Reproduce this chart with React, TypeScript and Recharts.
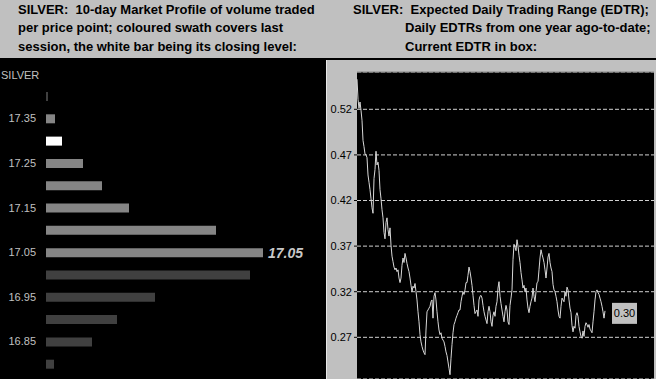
import {
  Bar,
  BarChart,
  CartesianGrid,
  Cell,
  LabelList,
  Line,
  LineChart,
  ReferenceLine,
  XAxis,
  YAxis,
} from 'recharts';

// Left: 10-day market profile (volume per price point, 0.05 steps).
const prices = [17.4, 17.35, 17.3, 17.25, 17.2, 17.15, 17.1, 17.05, 17.0, 16.95, 16.9, 16.85, 16.8];
const volumes = [2, 9, 16, 37, 56, 83, 170, 217, 204, 109, 71, 46, 8];
const SESSION_HIGH = 17.35;
const SESSION_LOW = 17.05;
const CLOSE = 17.3;
const POC = 17.05;

// Right: daily EDTR over the past year.
const edtr = [
  0.553, 0.531, 0.521, 0.528, 0.519, 0.508, 0.486, 0.479, 0.471, 0.47,
  0.467, 0.448, 0.44, 0.432, 0.422, 0.412, 0.406, 0.444, 0.454, 0.474,
  0.459, 0.462, 0.453, 0.432, 0.422, 0.41, 0.401, 0.385, 0.378, 0.396,
  0.401, 0.388, 0.381, 0.39, 0.371, 0.359, 0.353, 0.347, 0.344, 0.346,
  0.342, 0.344, 0.335, 0.33, 0.335, 0.349, 0.357, 0.352, 0.362, 0.357,
  0.351, 0.346, 0.342, 0.335, 0.327, 0.32, 0.326, 0.324, 0.329, 0.32,
  0.311, 0.298, 0.287, 0.273, 0.265, 0.26, 0.256, 0.253, 0.251, 0.278,
  0.298, 0.3, 0.302, 0.304, 0.309, 0.311, 0.291, 0.315, 0.319, 0.311,
  0.298, 0.287, 0.278, 0.273, 0.275, 0.269, 0.267, 0.265, 0.26, 0.254,
  0.25, 0.243, 0.236, 0.229, 0.247, 0.262, 0.275, 0.284, 0.287, 0.291,
  0.294, 0.297, 0.3, 0.3, 0.309, 0.315, 0.32, 0.317, 0.322, 0.33,
  0.33, 0.338, 0.347, 0.342, 0.335, 0.327, 0.316, 0.305, 0.296, 0.298,
  0.3, 0.293, 0.311, 0.315, 0.316, 0.313, 0.305, 0.298, 0.293, 0.289,
  0.285, 0.298, 0.304, 0.298, 0.287, 0.282, 0.294, 0.298, 0.293, 0.304,
  0.309, 0.324, 0.331, 0.315, 0.307, 0.3, 0.293, 0.287, 0.298, 0.305,
  0.3, 0.287, 0.284, 0.305, 0.313, 0.322, 0.355, 0.372, 0.369, 0.365,
  0.377, 0.37, 0.36, 0.352, 0.341, 0.333, 0.324, 0.327, 0.32, 0.324,
  0.311, 0.302, 0.297, 0.304, 0.309, 0.313, 0.324, 0.315, 0.309, 0.32,
  0.33, 0.331, 0.344, 0.357, 0.366, 0.361, 0.357, 0.352, 0.344, 0.335,
  0.346, 0.358, 0.362, 0.352, 0.346, 0.342, 0.328, 0.322, 0.32, 0.315,
  0.309, 0.3, 0.293, 0.291, 0.304, 0.313, 0.311, 0.309, 0.32, 0.315,
  0.325, 0.322, 0.311, 0.302, 0.297, 0.283, 0.276, 0.282, 0.28, 0.294,
  0.297, 0.293, 0.282, 0.276, 0.271, 0.269, 0.277, 0.271, 0.282, 0.286,
  0.284, 0.281, 0.284, 0.279, 0.277, 0.275, 0.287, 0.298, 0.311, 0.32,
  0.322, 0.319, 0.317, 0.313, 0.309, 0.304, 0.298, 0.291, 0.299,
];
const edtrTicks = [0.27, 0.32, 0.37, 0.42, 0.47, 0.52];
const EDTR_MIN = 0.2243;
const EDTR_MAX = 0.5609;
const DAYS_SPAN = 297;
const CURRENT_EDTR = 0.3;

const FONT = '"Liberation Sans", Arial, sans-serif';
const GRAY = '#c0c0c0';

const cents = (p: number) => Math.round(p * 100);

const barColor = (p: number) => {
  if (cents(p) === cents(CLOSE)) return '#ffffff';
  if (cents(p) >= cents(SESSION_LOW) && cents(p) <= cents(SESSION_HIGH)) return '#858585';
  return '#404040';
};

const profileData = prices.map((price, i) => ({ price, volume: volumes[i] }));
const edtrData = edtr.map((v, day) => ({ day, v }));

const headerLine = (text: string, left: number, top: number) => (
  <div
    key={text}
    style={{
      position: 'absolute',
      left,
      top,
      whiteSpace: 'pre',
      fontFamily: FONT,
      fontWeight: 'bold',
      fontSize: 13,
      lineHeight: '16px',
      color: '#000',
    }}
  >
    {text}
  </div>
);

function PocLabel(props: any) {
  const { x, y, width, height, index } = props;
  if (cents(prices[index]) !== cents(POC)) return null;
  return (
    <text
      x={Number(x) + Number(width) + 5}
      y={Number(y) + Number(height) / 2}
      dominantBaseline="central"
      fill="#c8c8c8"
      fontFamily={FONT}
      fontWeight="bold"
      fontStyle="italic"
      fontSize={14}
    >
      {POC.toFixed(2)}
    </text>
  );
}

function CurrentBox(props: any) {
  const { x, y, index } = props;
  if (index !== edtr.length - 1) return null;
  const bx = Number(x) + 7;
  const by = Number(y) - 8;
  return (
    <g>
      <rect x={bx} y={by} width={25} height={21} fill={GRAY} />
      <text
        x={bx + 12.5}
        y={by + 10.5}
        textAnchor="middle"
        dominantBaseline="central"
        fill="#000"
        fontFamily={FONT}
        fontSize={11}
      >
        {CURRENT_EDTR.toFixed(2)}
      </text>
    </g>
  );
}

export default function App() {
  return (
    <div
      style={{
        position: 'absolute',
        left: 0,
        top: 0,
        width: 656,
        height: 379,
        background: GRAY,
        overflow: 'hidden',
        fontFamily: FONT,
      }}
    >
      {headerLine('SILVER:  10-day Market Profile of volume traded', 18, 1.5)}
      {headerLine('per price point; coloured swath covers last', 18, 20)}
      {headerLine('session, the white bar being its closing level:', 18, 39)}
      {headerLine('SILVER:  Expected Daily Trading Range (EDTR);', 353, 1.5)}
      {headerLine('Daily EDTRs from one year ago-to-date;', 405, 20)}
      {headerLine('Current EDTR in box:', 405, 39)}
      <div style={{ position: 'absolute', left: 0, top: 58, width: 656, height: 2, background: '#000' }} />

      {/* market profile panel */}
      <div style={{ position: 'absolute', left: 0, top: 60, width: 326, height: 319, background: '#000' }}>
        <div
          style={{
            position: 'absolute',
            left: 1,
            top: 9,
            fontSize: 11,
            color: GRAY,
            fontFamily: FONT,
          }}
        >
          SILVER
        </div>
        <BarChart
          width={326}
          height={319}
          data={profileData}
          layout="vertical"
          margin={{ top: 25, right: 0, bottom: 4, left: 0 }}
        >
          <XAxis type="number" domain={[0, 280]} hide />
          <YAxis
            type="category"
            dataKey="price"
            width={46}
            interval={0}
            tickSize={0}
            tickMargin={10}
            axisLine={false}
            tickLine={false}
            tick={{ fill: GRAY, fontSize: 11, fontFamily: FONT }}
            tickFormatter={(v: number, i: number) => (i % 2 === 1 ? Number(v).toFixed(2) : '')}
          />
          <Bar dataKey="volume" barSize={9} isAnimationActive={false}>
            {profileData.map((d) => (
              <Cell key={d.price} fill={barColor(d.price)} />
            ))}
            <LabelList dataKey="volume" content={PocLabel} />
          </Bar>
        </BarChart>
      </div>
      <div style={{ position: 'absolute', left: 326, top: 60, width: 1, height: 319, background: '#e8e8e8' }} />

      {/* EDTR panel */}
      <div style={{ position: 'absolute', left: 328, top: 60 }}>
        <LineChart
          width={328}
          height={319}
          data={edtrData}
          margin={{ top: 12, right: 2, bottom: 0, left: 0 }}
        >
          <CartesianGrid
            vertical={false}
            stroke="#d0d0d0"
            strokeDasharray="4 2"
            fill="#000"
            fillOpacity={1}
          />
          <XAxis type="number" dataKey="day" domain={[0, DAYS_SPAN]} hide />
          <YAxis
            type="number"
            domain={[EDTR_MIN, EDTR_MAX]}
            ticks={edtrTicks}
            allowDataOverflow
            width={29}
            tickSize={3}
            tickMargin={2}
            axisLine={false}
            tickLine={{ stroke: '#000' }}
            tick={{ fill: '#000', fontSize: 11, fontFamily: FONT }}
            tickFormatter={(v: number) => v.toFixed(2)}
          />
          <ReferenceLine y={EDTR_MAX} stroke="#808080" />
          <Line
            type="linear"
            dataKey="v"
            stroke="#d8d8d8"
            strokeWidth={1}
            dot={false}
            isAnimationActive={false}
          >
            <LabelList dataKey="v" content={CurrentBox} />
          </Line>
        </LineChart>
      </div>
    </div>
  );
}
